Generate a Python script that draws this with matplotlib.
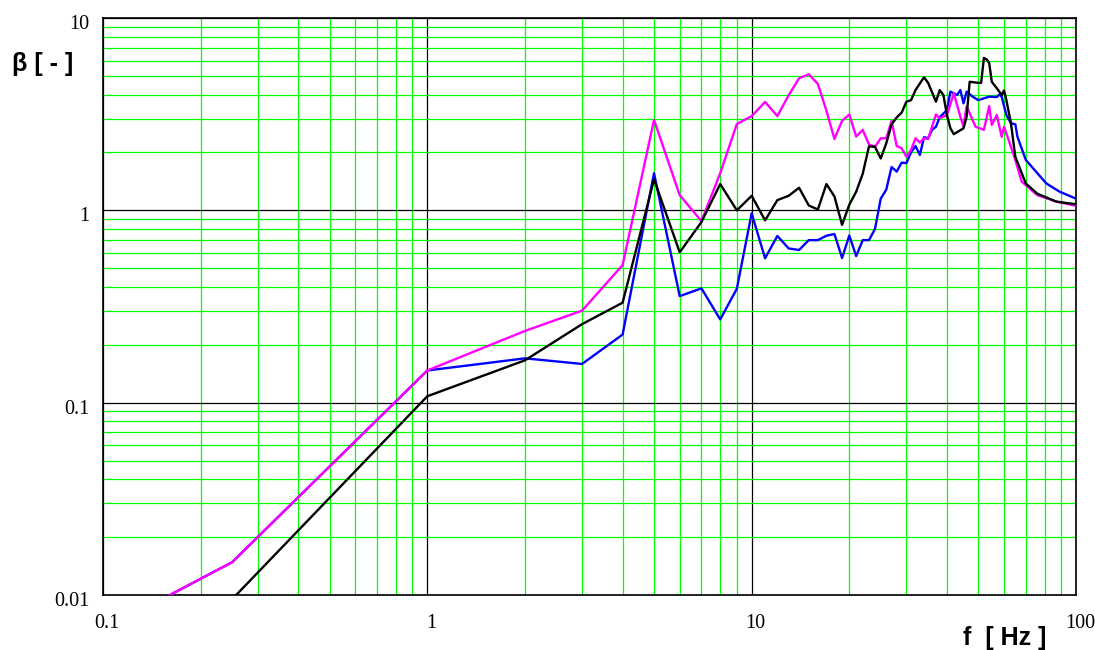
import numpy as np
import matplotlib
matplotlib.use("Agg")
import matplotlib.pyplot as plt
import matplotlib.transforms as mtransforms
from matplotlib.ticker import LogLocator, FixedLocator, NullFormatter

# ---- data ----
f_mag = [0.125, 0.25, 1, 2, 3, 4, 5, 6, 7, 8, 9, 10, 11, 12, 13, 14, 15, 16, 17, 18,
         19, 20, 21, 22, 23, 24, 25, 26, 27, 28, 29, 30, 31, 32, 33, 34, 35, 37, 38,
         40, 42, 44, 45, 46, 49, 52, 54, 55, 57, 59, 60, 62, 65, 68, 76, 87, 100]
b_mag = [0.0080, 0.0148, 0.147, 0.236, 0.301, 0.519, 2.95, 1.20, 0.879, 1.56, 2.81,
         3.09, 3.66, 3.09, 3.96, 4.86, 5.10, 4.54, 3.30, 2.35, 2.92, 3.15, 2.42, 2.62,
         2.20, 2.14, 2.37, 2.37, 2.92, 2.16, 2.10, 1.90, 2.06, 2.37, 2.25, 2.37, 2.35,
         3.15, 3.01, 3.13, 4.06, 3.07, 2.72, 3.48, 2.72, 2.62, 3.48, 2.78, 3.13, 2.41,
         2.72, 2.32, 1.83, 1.41, 1.20, 1.11, 1.055]

f_blk = [0.25, 1, 2, 3, 4, 5, 6, 7, 8, 9, 10, 11, 12, 13, 14, 15, 16, 17, 18, 19, 20,
         21, 22, 23, 24, 25, 26, 27, 28, 29, 30, 31, 32, 34, 35, 37, 38, 39, 40, 41,
         42, 45, 46, 47, 50, 51, 52, 53, 54, 55, 57, 59, 60, 61, 63, 65, 70, 76, 87,
         100]
b_blk = [0.0095, 0.108, 0.166, 0.256, 0.331, 1.45, 0.605, 0.869, 1.37, 1.0, 1.19,
         0.887, 1.13, 1.19, 1.31, 1.06, 1.01, 1.37, 1.18, 0.84, 1.07, 1.25, 1.55, 2.15,
         2.14, 1.86, 2.23, 2.80, 3.04, 3.22, 3.67, 3.74, 4.22, 4.92, 4.60, 3.67, 4.22,
         3.98, 3.13, 2.67, 2.49, 2.67, 3.07, 4.66, 4.60, 4.60, 6.20, 6.10, 5.83, 4.66,
         4.31, 3.98, 4.20, 3.74, 2.84, 1.90, 1.38, 1.22, 1.11, 1.075]

f_blu = [0.125, 0.25, 1, 2, 3, 4, 5, 6, 7, 8, 9, 10, 11, 12, 13, 14, 15, 16, 17, 18,
         19, 20, 21, 22, 23, 24, 25, 26, 27, 28, 29, 30, 31, 32, 33, 34, 35, 36, 37,
         38, 40, 41, 43, 44, 45, 46, 48, 50, 54, 57, 58, 59, 61, 63, 65, 66, 70, 76,
         81, 89, 100]
b_blu = [0.0080, 0.0148, 0.147, 0.170, 0.159, 0.226, 1.56, 0.358, 0.393, 0.271, 0.391,
         0.965, 0.563, 0.736, 0.634, 0.622, 0.70, 0.70, 0.738, 0.753, 0.565, 0.74,
         0.578, 0.70, 0.70, 0.80, 1.15, 1.28, 1.68, 1.59, 1.77, 1.76, 2.0, 2.16, 1.94,
         2.40, 2.37, 2.62, 2.72, 3.05, 3.32, 4.14, 3.98, 4.22, 3.60, 4.14, 3.90, 3.74,
         3.90, 3.88, 4.0, 3.90, 3.13, 2.84, 2.80, 2.41, 1.83, 1.56, 1.38, 1.25, 1.15]

x_ticks = [0.1, 1, 10, 100]
x_labels = ["0.1", "1", "10", "100"]
y_ticks = [0.01, 0.1, 1, 10]
y_labels = ["0.01", "0.1", "1", "10"]

fig = plt.figure(figsize=(10.95, 6.5), dpi=100)
ax = fig.add_axes([103 / 1095, 1 - 595 / 650, 973 / 1095, 577 / 650])

ax.set_xscale("log")
ax.set_yscale("log")
ax.set_xlim(0.1, 100)
ax.set_ylim(0.01, 10)

ax.plot(f_blu, b_blu, color="#0000ff", lw=1.7, zorder=3)
ax.plot(f_mag, b_mag, color="#ff00ff", lw=1.7, zorder=4)
ax.plot(f_blk, b_blk, color="black", lw=1.7, zorder=5)

# grid: green minor, black major
ax.xaxis.set_minor_locator(LogLocator(base=10, subs=np.arange(2, 10)))
ax.yaxis.set_minor_locator(LogLocator(base=10, subs=np.arange(2, 10)))
ax.xaxis.set_minor_formatter(NullFormatter())
ax.yaxis.set_minor_formatter(NullFormatter())
ax.grid(which="minor", color="#00ff00", lw=0.9, zorder=1)
ax.grid(which="major", color="black", lw=0.9, zorder=2)
ax.set_axisbelow(True)

ax.xaxis.set_major_locator(FixedLocator(x_ticks))
ax.yaxis.set_major_locator(FixedLocator(y_ticks))
ax.set_xticklabels(x_labels, family="Liberation Serif", fontsize=14.5)
ax.set_yticklabels(y_labels, family="Liberation Serif", fontsize=14.5)
ax.tick_params(which="both", length=0)
ax.tick_params(axis="x", pad=14)
ax.tick_params(axis="y", pad=10)

# small offsets like in the original
for lbl in ax.get_xticklabels():
    lbl.set_transform(lbl.get_transform() + mtransforms.ScaledTranslation(4 / 100, 0, fig.dpi_scale_trans))
for lbl in ax.get_yticklabels():
    lbl.set_transform(lbl.get_transform() + mtransforms.ScaledTranslation(0, -4 / 100, fig.dpi_scale_trans))

for s in ax.spines.values():
    s.set_color("black")
    s.set_linewidth(1.2)

fig.text(12 / 1095, 1 - 64 / 650, "β [ - ]", family="Liberation Sans", weight="bold",
         fontsize=18, ha="left", va="center")
fig.text(963 / 1095, 1 - 638 / 650, "f  [ Hz ]", family="Liberation Sans", weight="bold",
         fontsize=18, ha="left", va="center")

fig.savefig("out.png", dpi=100)
